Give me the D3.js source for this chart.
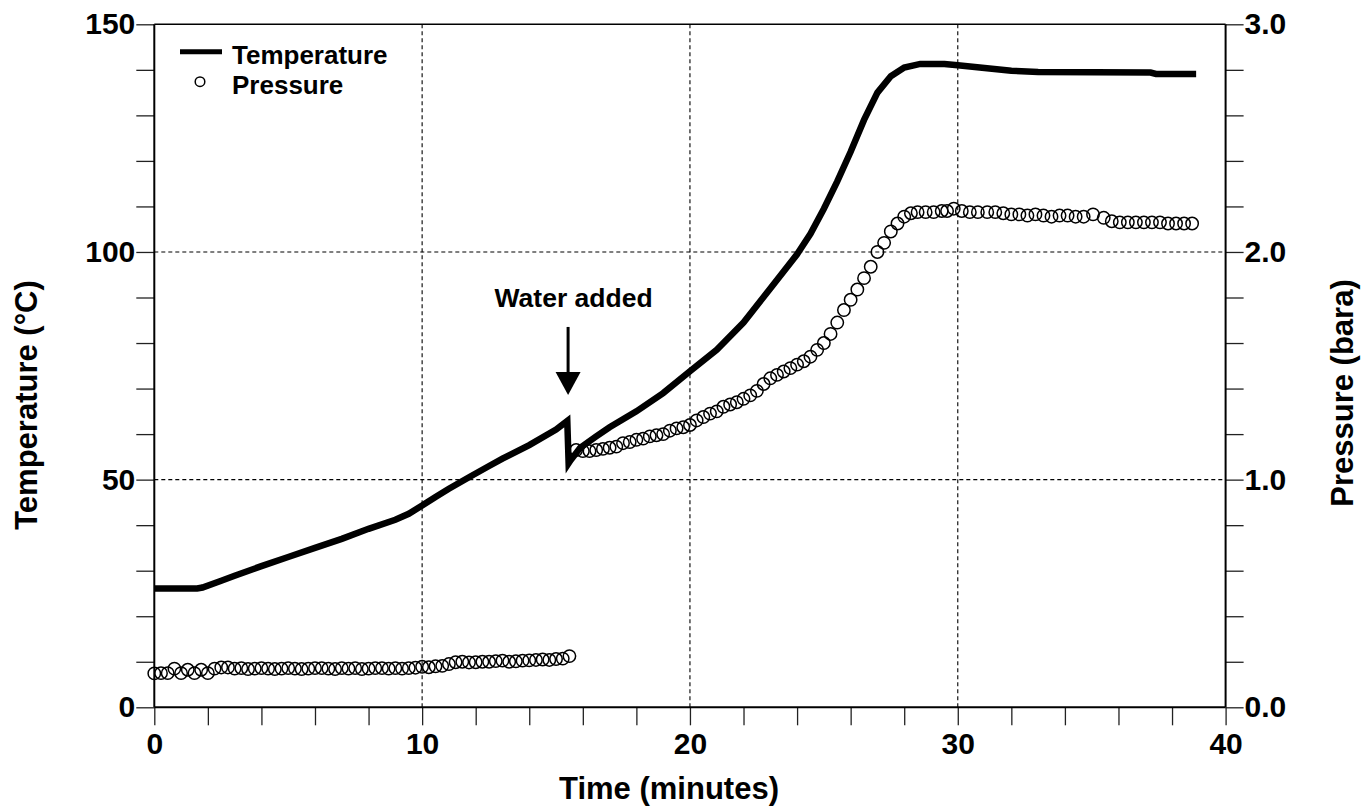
<!DOCTYPE html>
<html>
<head>
<meta charset="utf-8">
<script src="https://cdn.jsdelivr.net/npm/d3@7/dist/d3.min.js"></script>
<style>
  html, body { margin: 0; padding: 0; background: #fff; }
  svg { display: block; }
  text { font-family: "Liberation Sans", Arial, sans-serif; font-weight: bold; fill: #000; }
</style>
</head>
<body>
<svg id="chart" width="1366" height="806"></svg>
<script>
// Reactor temperature trace (minutes, °C)
const tempTime = [0, 1.6, 1.8, 2.5, 3.0, 4.0, 5.0, 6.0, 7.0, 8.0, 9.0, 9.5, 10.0, 10.5, 11.0, 11.8, 12.5, 13.0, 14.0, 15.0, 15.42,
  15.47, 15.55, 15.9, 16.5, 17.0, 18.0, 19.0, 20.0, 21.0, 22.0, 23.0, 24.0, 24.5, 25.0, 25.5, 26.0, 26.5, 27.0, 27.5, 28.0, 28.6,
  29.5, 30.0, 31.0, 32.0, 33.0, 37.2, 37.4, 38.9];
const tempValue = [26.1, 26.1, 26.3, 27.8, 28.9, 31.0, 33.0, 35.0, 37.0, 39.2, 41.2, 42.5, 44.3, 46.2, 48.0, 50.7, 53.0, 54.6, 57.6, 61.0, 62.9,
  53.6, 54.3, 57.0, 59.5, 61.5, 65.0, 69.0, 73.8, 78.5, 84.5, 92.0, 99.5, 104.0, 109.5, 115.5, 122.0, 129.0, 135.0, 138.6, 140.5, 141.3,
  141.3, 141.0, 140.4, 139.8, 139.5, 139.4, 139.1, 139.1];

// Vessel pressure readings (minutes, bara)
const presTime = [
  0, 0.25, 0.5, 0.75, 1.0, 1.25, 1.5, 1.75, 2.0, 2.25, 2.5, 2.75, 3.0, 3.25, 3.5, 3.75, 4.0, 4.25, 4.5, 4.75,
  5.0, 5.25, 5.5, 5.75, 6.0, 6.25, 6.5, 6.75, 7.0, 7.25, 7.5, 7.75, 8.0, 8.25, 8.5, 8.75, 9.0, 9.25, 9.5, 9.75,
  10.0, 10.25, 10.5, 10.75, 11.0, 11.25, 11.5, 11.75, 12.0, 12.25, 12.5, 12.75, 13.0, 13.25, 13.5, 13.75, 14.0, 14.25, 14.5, 14.75,
  15.0, 15.25, 15.5,
  15.75, 16.0, 16.25, 16.5, 16.75, 17.0, 17.25, 17.5, 17.75, 18.0, 18.25, 18.5, 18.75, 19.0, 19.25, 19.5, 19.75,
  20.0, 20.25, 20.5, 20.75, 21.0, 21.25, 21.5, 21.75, 22.0, 22.25, 22.5, 22.75, 23.0, 23.25, 23.5, 23.75,
  24.0, 24.25, 24.5, 24.75, 25.0, 25.25, 25.5, 25.75, 26.0, 26.25, 26.5, 26.75, 27.0, 27.25, 27.5, 27.75, 28.0, 28.25,
  28.5, 28.8, 29.1, 29.4, 29.6, 29.85, 30.15, 30.45, 30.75, 31.1, 31.4, 31.7, 32.0, 32.3, 32.6, 32.9, 33.2, 33.5,
  33.8, 34.1, 34.4, 34.7, 35.05, 35.45, 35.75, 36.05, 36.35, 36.65, 36.95, 37.25, 37.55, 37.85, 38.15, 38.45, 38.75];
const presValue = [
  0.149, 0.150, 0.150, 0.170, 0.150, 0.165, 0.150, 0.165, 0.150, 0.170, 0.175, 0.175, 0.170, 0.172, 0.168, 0.170, 0.172, 0.170, 0.168, 0.170,
  0.172, 0.170, 0.168, 0.170, 0.172, 0.172, 0.170, 0.168, 0.172, 0.170, 0.172, 0.168, 0.170, 0.172, 0.172, 0.170, 0.172, 0.170, 0.172, 0.174,
  0.178, 0.176, 0.180, 0.182, 0.190, 0.198, 0.200, 0.197, 0.198, 0.200, 0.200, 0.203, 0.205, 0.200, 0.202, 0.205, 0.206, 0.208, 0.210, 0.208,
  0.212, 0.214, 0.225,
  1.130, 1.125, 1.125, 1.130, 1.135, 1.140, 1.145, 1.160, 1.165, 1.175, 1.180, 1.190, 1.195, 1.200, 1.215, 1.225, 1.230,
  1.240, 1.260, 1.275, 1.290, 1.300, 1.320, 1.330, 1.340, 1.355, 1.370, 1.390, 1.420, 1.445, 1.460, 1.475, 1.490,
  1.505, 1.520, 1.540, 1.570, 1.600, 1.640, 1.690, 1.745, 1.790, 1.835, 1.885, 1.935, 2.000, 2.040, 2.090, 2.125, 2.155, 2.170,
  2.175, 2.175, 2.175, 2.180, 2.180, 2.190, 2.180, 2.175, 2.175, 2.175, 2.175, 2.170, 2.165, 2.165, 2.160, 2.165, 2.160, 2.155,
  2.160, 2.160, 2.155, 2.155, 2.165, 2.150, 2.135, 2.130, 2.130, 2.130, 2.130, 2.130, 2.130, 2.125, 2.125, 2.125, 2.125];

// Axis ticks and labels
const timeTicks = [0, 2, 4, 6, 8, 10, 12, 14, 16, 18, 20, 22, 24, 26, 28, 30, 32, 34, 36, 38, 40];
const timeLabels = [0, 10, 20, 30, 40];
const tempTicks = [0, 10, 20, 30, 40, 50, 60, 70, 80, 90, 100, 110, 120, 130, 140, 150];
const tempLabels = [0, 50, 100, 150];
const presTicks = [0, 0.2, 0.4, 0.6, 0.8, 1.0, 1.2, 1.4, 1.6, 1.8, 2.0, 2.2, 2.4, 2.6, 2.8, 3.0];
const presLabels = [0, 1, 2, 3];
const timeGrid = [10, 20, 30];
const tempGrid = [50, 100];

const svg = d3.select("#chart");
const plotLeft = 154.3, plotRight = 1225.6, plotTop = 24.3, plotBottom = 707.3;

const x = d3.scaleLinear().domain([0, 40]).range([plotLeft, plotRight]);
const yT = d3.scaleLinear().domain([0, 150]).range([plotBottom, plotTop]);
const yP = d3.scaleLinear().domain([0, 3]).range([plotBottom, plotTop]);

// dashed grid
const grid = svg.append("g").attr("stroke", "#000").attr("stroke-width", 1.1).attr("stroke-dasharray", "4,3");
grid.selectAll("line.v").data(timeGrid).join("line").attr("class", "v")
  .attr("x1", d => x(d)).attr("x2", d => x(d)).attr("y1", plotTop).attr("y2", plotBottom);
grid.selectAll("line.h").data(tempGrid).join("line").attr("class", "h")
  .attr("x1", plotLeft).attr("x2", plotRight).attr("y1", d => yT(d)).attr("y2", d => yT(d));

// axes
const fmtT = d => tempLabels.includes(d) ? String(d) : "";
const fmtX = d => timeLabels.includes(d) ? String(d) : "";
const fmtP = d => presLabels.some(v => Math.abs(v - d) < 1e-9) ? d.toFixed(1) : "";

function styleAxis(g) {
  g.select(".domain").remove();
  g.selectAll(".tick line").attr("stroke", "#222").attr("stroke-width", 1.3);
  g.selectAll(".tick text").style("font-size", "30px");
}

svg.append("g").attr("transform", `translate(0,${plotBottom})`)
  .call(d3.axisBottom(x).tickValues(timeTicks).tickFormat(fmtX).tickSize(18).tickPadding(7))
  .call(styleAxis);
svg.append("g").attr("transform", `translate(${plotLeft},0)`)
  .call(d3.axisLeft(yT).tickValues(tempTicks).tickFormat(fmtT).tickSize(18).tickPadding(1))
  .call(styleAxis);
svg.append("g").attr("transform", `translate(${plotRight},0)`)
  .call(d3.axisRight(yP).tickValues(presTicks).tickFormat(fmtP).tickSize(18).tickPadding(1))
  .call(styleAxis);

// frame
const frame = svg.append("g").attr("stroke", "#000").attr("fill", "none");
frame.append("line").attr("x1", plotLeft).attr("x2", plotLeft).attr("y1", plotTop).attr("y2", plotBottom).attr("stroke-width", 2);
frame.append("line").attr("x1", plotRight).attr("x2", plotRight).attr("y1", plotTop).attr("y2", plotBottom).attr("stroke-width", 2);
frame.append("line").attr("x1", plotLeft).attr("x2", plotRight).attr("y1", plotBottom).attr("y2", plotBottom).attr("stroke-width", 2);
frame.append("line").attr("x1", plotLeft).attr("x2", plotRight).attr("y1", plotTop).attr("y2", plotTop).attr("stroke-width", 1.6);

// pressure markers
const presData = presTime.map((t, i) => ({ t, p: presValue[i] }));
svg.append("g").selectAll("circle").data(presData).join("circle")
  .attr("cx", d => x(d.t)).attr("cy", d => yP(d.p)).attr("r", 6.2)
  .attr("fill", "none").attr("stroke", "#000").attr("stroke-width", 1.5);

// temperature trace
const tempData = tempTime.map((t, i) => ({ t, v: tempValue[i] }));
svg.append("path").datum(tempData)
  .attr("d", d3.line().x(d => x(d.t)).y(d => yT(d.v)))
  .attr("fill", "none").attr("stroke", "#000").attr("stroke-width", 6.5)
  .attr("stroke-linejoin", "miter").attr("stroke-miterlimit", 10);

// annotation
const ax = x(15.45), tipY = yT(68.6);
svg.append("line").attr("x1", ax).attr("x2", ax).attr("y1", tipY - 68).attr("y2", tipY - 20)
  .attr("stroke", "#000").attr("stroke-width", 3);
svg.append("path")
  .attr("d", `M${ax - 12.5},${tipY - 23} L${ax + 12.5},${tipY - 23} L${ax},${tipY} Z`)
  .attr("fill", "#000");
svg.append("text").attr("x", ax + 5.5).attr("y", tipY - 88).attr("text-anchor", "middle")
  .style("font-size", "26.5px").text("Water added");

// legend
const lg = svg.append("g");
lg.append("line").attr("x1", 180).attr("x2", 222).attr("y1", 51.7).attr("y2", 51.7)
  .attr("stroke", "#000").attr("stroke-width", 5);
lg.append("text").attr("x", 232).attr("y", 64).style("font-size", "26px").text("Temperature");
lg.append("circle").attr("cx", 200).attr("cy", 81.7).attr("r", 4.8)
  .attr("fill", "none").attr("stroke", "#000").attr("stroke-width", 1.5);
lg.append("text").attr("x", 232).attr("y", 94).style("font-size", "26px").text("Pressure");

// axis titles
svg.append("text").attr("x", 669).attr("y", 799).attr("text-anchor", "middle")
  .style("font-size", "31px").text("Time (minutes)");
svg.append("text").attr("transform", "translate(37,405) rotate(-90)").attr("text-anchor", "middle")
  .style("font-size", "31px").text("Temperature (°C)");
svg.append("text").attr("transform", "translate(1353,393) rotate(-90)").attr("text-anchor", "middle")
  .style("font-size", "31px").text("Pressure (bara)");
</script>
</body>
</html>
